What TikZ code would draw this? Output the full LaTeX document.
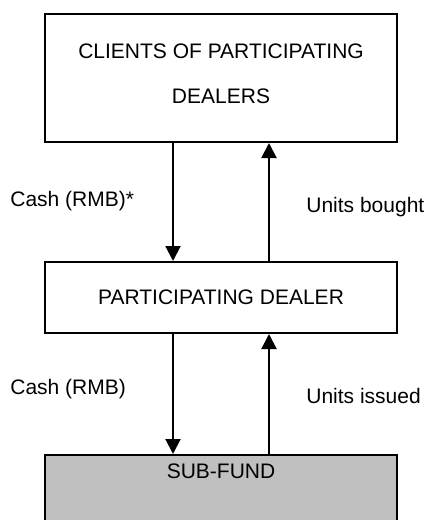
\documentclass[tikz,border=0pt]{standalone}
\usepackage{fontspec}
\setmainfont{Liberation Sans}
\usetikzlibrary{arrows.meta}
\definecolor{fundgrey}{RGB}{192,192,192}
\begin{document}
\begin{tikzpicture}[x=0.5pt,y=-0.5pt,
		font=\fontsize{10.5}{22.5}\selectfont,
		party/.style={draw,line width=1pt,minimum width=176pt,align=center},
		flow/.style={line width=1pt,-{Triangle[width=7.5pt,length=7.5pt]}},
		flowlabel/.style={anchor=west,inner sep=0pt}]
		\useasboundingbox (0,0) rectangle (427,520);
		
		\node[party,minimum height=64pt,text depth=4pt] (clients) at (221,78) {CLIENTS OF PARTICIPATING\\DEALERS};
		\node[party,minimum height=35.5pt] (dealer) at (221,297.5) {PARTICIPATING DEALER};
		\node[party,fill=fundgrey,anchor=north,inner ysep=4pt,text height=7.5pt,text depth=18.5pt] (fund) at (221,454) {SUB-FUND};
		
		\draw[flow] ([xshift=-24pt]clients.south) -- ([xshift=-24pt]dealer.north);
		\draw[flow] ([xshift=24pt]dealer.north) -- ([xshift=24pt]clients.south);
		\draw[flow] ([xshift=-24pt]dealer.south) -- ([xshift=-24pt]fund.north);
		\draw[flow] ([xshift=24pt]fund.north) -- ([xshift=24pt]dealer.south);
		
		\node[flowlabel] (cashclients) at (10,201) {Cash (RMB)*};
		\node[flowlabel] (unitsbought) at (306,207) {Units bought};
		\node[flowlabel] (cashdealer) at (10,389) {Cash (RMB)};
		\node[flowlabel] (unitsissued) at (306,396) {Units issued};
	\end{tikzpicture}
\end{document}
